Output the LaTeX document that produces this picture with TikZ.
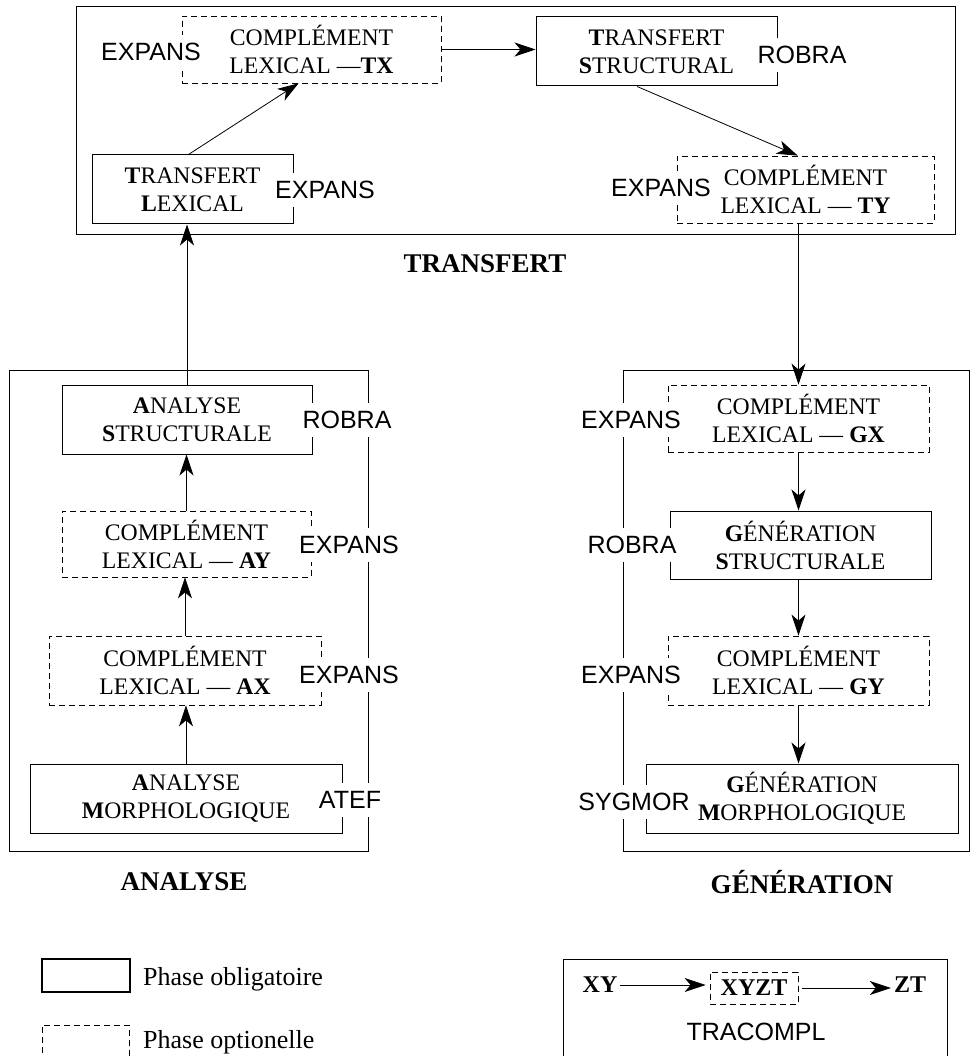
\documentclass[tikz,border=0pt]{standalone}
\usepackage{fontspec}
\setmainfont{Liberation Serif}
\setsansfont{Liberation Sans}
\usetikzlibrary{arrows.meta,calc}
\tikzset{>/.tip={Stealth[length=21pt,width=14pt,inset=6pt]},
  oblig/.style={draw, line width=1pt, align=center, inner sep=0pt,
    font=\fontsize{23.7}{28}\selectfont},
  option/.style={oblig, line width=0.8pt, dash pattern=on 6pt off 4pt},
  tool/.style={fill=white, inner xsep=1pt, inner ysep=8pt,
    font=\sffamily\fontsize{25}{30}\selectfont},
  frame/.style={draw, line width=1pt},
  conn/.style={->, line width=0.8pt},
  title/.style={font=\bfseries\fontsize{27}{32}\selectfont}}

\begin{document}
\begin{tikzpicture}[x=1pt,y=-1pt]
\clip (0,0) rectangle (971,1056);

% frames
\draw[frame] (76,7) rectangle (955,235);
\draw[frame] (9,370) rectangle (368,851);
\draw[frame] (623,370) rectangle (969.5,851);

% transfert
\node[option, minimum width=259pt, minimum height=67pt] (TX) at (311.5,49.5)
  {COMPLÉMENT\\LEXICAL ---\textbf{TX}};
\node[oblig, minimum width=241pt, minimum height=69pt] (TS) at (656.5,51.5)
  {\textbf{T}RANSFERT\\\textbf{S}TRUCTURAL};
\node[oblig, minimum width=201pt, minimum height=69pt] (TL) at (192.5,189.5)
  {\textbf{T}RANSFERT\\\textbf{L}EXICAL};
\node[option, minimum width=257pt, minimum height=67pt] (TY) at (805.5,189.5)
  {COMPLÉMENT\\LEXICAL --- \textbf{TY}};

% analyse
\node[oblig, minimum width=250pt, minimum height=69pt] (AS) at (187,419.5)
  {\textbf{A}NALYSE\\\textbf{S}TRUCTURALE};
\node[option, minimum width=249pt, minimum height=66pt] (AY) at (186.5,544)
  {COMPLÉMENT\\LEXICAL --- \textbf{AY}};
\node[option, minimum width=272pt, minimum height=69pt] (AX) at (185,670.5)
  {COMPLÉMENT\\LEXICAL --- \textbf{AX}};
\node[oblig, minimum width=312pt, minimum height=69pt] (AM) at (186,798.5)
  {\textbf{A}NALYSE\\\textbf{M}ORPHOLOGIQUE};

% generation
\node[option, minimum width=261pt, minimum height=67pt] (GX) at (798.5,418.5)
  {COMPLÉMENT\\LEXICAL --- \textbf{GX}};
\node[oblig, minimum width=261pt, minimum height=68pt] (GS) at (800.5,545)
  {\textbf{G}ÉNÉRATION\\\textbf{S}TRUCTURALE};
\node[option, minimum width=261pt, minimum height=69pt] (GY) at (798.5,670.5)
  {COMPLÉMENT\\LEXICAL --- \textbf{GY}};
\node[oblig, minimum width=312pt, minimum height=69pt] (GM) at (802,798.5)
  {\textbf{G}ÉNÉRATION\\\textbf{M}ORPHOLOGIQUE};

% chain
\path[conn] (AM.north) edge (AM.north |- AX.south);
\path[conn] (AX.north) edge (AX.north |- AY.south);
\path[conn] (AY.north) edge (AY.north |- AS.south);
\path[conn] (AS.north) edge (AS.north |- TL.south);
\path[conn] ($(TL.north west)!0.48!(TL.north east)$) edge
  ($(TX.south west)!0.45!(TX.south east)$);
\path[conn] (TX.east) edge (TX.east -| TS.west);
\path[conn] ($(TS.south west)!0.42!(TS.south east)$) edge
  ($(TY.north west)!0.47!(TY.north east)$);
\path[conn] (TY.south -| GX.north) edge (GX.north);
\path[conn] (GX.south) edge (GX.south |- GS.north);
\path[conn] (GS.south -| GX.south) edge (GX.south |- GY.north);
\path[conn] (GY.south) edge (GY.south |- GM.north);

% tools
\node[tool] (tool-TX) at (151,52) {EXPANS};
\node[tool] (tool-TS) at (802,55) {ROBRA};
\node[tool] (tool-TL) at (325,190) {EXPANS};
\node[tool] (tool-TY) at (661,188) {EXPANS};
\node[tool] (tool-AS) at (347,420) {ROBRA};
\node[tool] (tool-AY) at (349,545) {EXPANS};
\node[tool] (tool-AX) at (349,675) {EXPANS};
\node[tool] (tool-AM) at (350,800) {ATEF};
\node[tool] (tool-GX) at (631,420) {EXPANS};
\node[tool] (tool-GS) at (632,545) {ROBRA};
\node[tool] (tool-GY) at (631,675) {EXPANS};
\node[tool] (tool-GM) at (634,802) {SYGMOR};

% titles
\node[title] (t-transfert) at (485,264) {TRANSFERT};
\node[title] (t-analyse) at (184,882) {ANALYSE};
\node[title] (t-generation) at (802,882) {GÉNÉRATION};

% legend
\node[draw, line width=2pt, minimum width=88pt, minimum height=33pt] (key-1) at (86,975.5) {};
\node[anchor=base west, inner sep=0pt, font=\fontsize{26}{30}\selectfont] (key-1-text)
  at (143,985) {Phase obligatoire};
\node[draw, line width=0.8pt, dash pattern=on 6pt off 4pt, minimum width=87pt,
  minimum height=44pt] (key-2) at (85.5,1047) {};
\node[anchor=base west, inner sep=0pt, font=\fontsize{26}{30}\selectfont] (key-2-text)
  at (143,1048) {Phase optionelle};

% tracompl
\draw[frame] (563,959) rectangle (947,1080);
\node[font=\bfseries\fontsize{24}{28}\selectfont, inner sep=0pt] (XY) at (600,985) {XY};
\node[option, font=\bfseries\fontsize{24}{28}\selectfont, minimum width=88pt,
  minimum height=32pt] (XYZT) at (754,988) {XYZT};
\node[font=\bfseries\fontsize{24}{28}\selectfont, inner sep=0pt] (ZT) at (910,985) {ZT};
\path[conn] (XY.east) edge[shorten >=4pt, shorten <=2pt] (XY.east -| XYZT.west);
\path[conn] (XYZT.east) edge[shorten <=4pt, shorten >=3pt] (XYZT.east -| ZT.west);
\node[font=\sffamily\fontsize{25}{30}\selectfont] (tracompl) at (756,1032) {TRACOMPL};
\end{tikzpicture}
\end{document}
